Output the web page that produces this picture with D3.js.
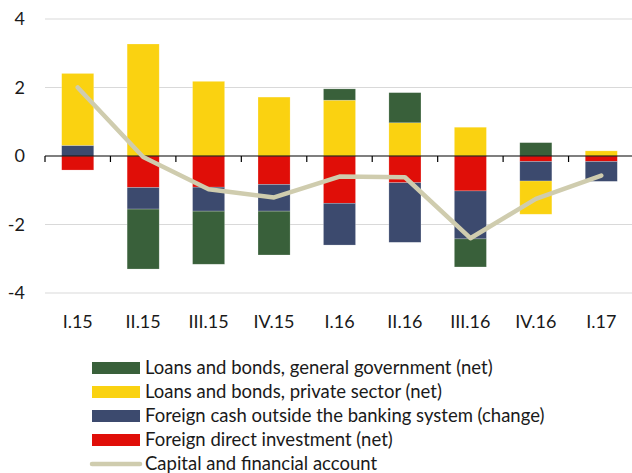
<!DOCTYPE html>
<html>
<head>
<meta charset="utf-8">
<script src="https://cdn.jsdelivr.net/npm/d3@7"></script>
<style>
  html, body { margin: 0; padding: 0; background: #fff; }
  svg { display: block; font-family: "Lato", "Liberation Sans", sans-serif; }
</style>
</head>
<body>
<svg id="chart" width="632" height="473"></svg>
<script>
// Quarterly categories
const quarters = ["I.15", "II.15", "III.15", "IV.15", "I.16", "II.16", "III.16", "IV.16", "I.17"];

// Components (net flows); stacking order from the zero line outward
const fdi        = [-0.41, -0.92, -0.91, -0.83, -1.38, -0.78, -1.02, -0.16, -0.16];
const cash       = [ 0.31, -0.63, -0.70, -0.78, -1.22, -1.74, -1.40, -0.57, -0.58];
const privateSec = [ 2.10,  3.27,  2.18,  1.72,  1.63,  0.97,  0.84, -0.97,  0.15];
const government = [ 0.00, -1.75, -1.55, -1.28,  0.33,  0.88, -0.82,  0.39,  0.00];

// Capital and financial account balance
const capitalAccount = [2.00, -0.03, -0.97, -1.21, -0.60, -0.62, -2.40, -1.25, -0.57];

const yTicks = [-4, -2, 0, 2, 4];

const seriesInfo = [
  { key: "fdi",        label: "Foreign direct investment (net)",                   color: "#E00E08" },
  { key: "cash",       label: "Foreign cash outside the banking system (change)",  color: "#3C4A6E" },
  { key: "privateSec", label: "Loans and bonds, private sector (net)",             color: "#FAD211" },
  { key: "government", label: "Loans and bonds, general government (net)",         color: "#39603A" }
];
const lineInfo = { label: "Capital and financial account", color: "#CFCCAE" };

const table = quarters.map((q, i) => ({
  q, fdi: fdi[i], cash: cash[i], privateSec: privateSec[i], government: government[i]
}));

const svg = d3.select("#chart");
const plot = { left: 45, right: 634, top: 19, bottom: 293 };

const x = d3.scaleBand().domain(quarters).range([plot.left, plot.right]).paddingInner(0.51).paddingOuter(0.255);
const xBand = d3.scaleBand().domain(quarters).range([plot.left, plot.right]);
const y = d3.scaleLinear().domain([-4, 4]).range([plot.bottom, plot.top]);

// Horizontal gridlines
svg.append("g").selectAll("line").data(yTicks.filter(t => t !== 0)).join("line")
  .attr("x1", plot.left).attr("x2", plot.right)
  .attr("y1", d => y(d)).attr("y2", d => y(d))
  .attr("stroke", "#d9d9d9").attr("stroke-width", 1);

// Y axis labels
svg.append("g").selectAll("text").data(yTicks).join("text")
  .attr("x", 25).attr("y", d => y(d)).attr("dy", "0.35em")
  .attr("text-anchor", "end").attr("font-size", 18).attr("fill", "#1a1a1a")
  .text(d => d);

// Stacked bars
const stack = d3.stack().keys(seriesInfo.map(s => s.key)).offset(d3.stackOffsetDiverging);
const layers = stack(table);
const colorOf = Object.fromEntries(seriesInfo.map(s => [s.key, s.color]));

svg.append("g").selectAll("g").data(layers).join("g")
  .attr("fill", d => colorOf[d.key])
  .selectAll("rect").data(d => d.filter(p => p[1] !== p[0])).join("rect")
  .attr("x", d => x(d.data.q))
  .attr("width", x.bandwidth())
  .attr("y", d => y(Math.max(d[0], d[1])))
  .attr("height", d => Math.abs(y(d[0]) - y(d[1])))
  .attr("stroke", "rgba(255,255,255,0.35)").attr("stroke-width", 0.6);

// Zero axis with category tick marks
svg.append("line")
  .attr("x1", plot.left).attr("x2", plot.right)
  .attr("y1", y(0)).attr("y2", y(0))
  .attr("stroke", "#000").attr("stroke-width", 1.2);
svg.append("g").selectAll("line").data(d3.range(quarters.length + 1)).join("line")
  .attr("x1", i => plot.left + i * xBand.step()).attr("x2", i => plot.left + i * xBand.step())
  .attr("y1", y(0)).attr("y2", y(0) + 6)
  .attr("stroke", "#000").attr("stroke-width", 1.2);

// Category labels
svg.append("g").selectAll("text").data(quarters).join("text")
  .attr("x", d => xBand(d) + xBand.bandwidth() / 2)
  .attr("y", 322).attr("dy", "0.35em")
  .attr("text-anchor", "middle").attr("font-size", 18).attr("fill", "#1a1a1a")
  .text(d => d);

// Capital and financial account line
const line = d3.line()
  .x((d, i) => xBand(quarters[i]) + xBand.bandwidth() / 2)
  .y(d => y(d));
svg.append("path").datum(capitalAccount)
  .attr("d", line)
  .attr("fill", "none").attr("stroke", lineInfo.color)
  .attr("stroke-width", 4.5).attr("stroke-linecap", "round").attr("stroke-linejoin", "round");

// Legend (reverse of stacking order, line last)
const legendItems = seriesInfo.slice().reverse().map(s => ({ ...s, type: "rect" }))
  .concat([{ ...lineInfo, type: "line" }]);
const legend = svg.append("g");
legendItems.forEach((item, i) => {
  const cy = 368 + i * 24;
  if (item.type === "rect") {
    legend.append("rect").attr("x", 92).attr("y", cy - 6).attr("width", 48).attr("height", 12).attr("fill", item.color);
  } else {
    legend.append("line").attr("x1", 92).attr("x2", 140).attr("y1", cy).attr("y2", cy)
      .attr("stroke", item.color).attr("stroke-width", 4.5).attr("stroke-linecap", "round");
  }
  legend.append("text").attr("x", 145).attr("y", cy).attr("dy", "0.35em")
    .attr("font-size", 18.5).attr("fill", "#1a1a1a").text(item.label);
});
</script>
</body>
</html>
